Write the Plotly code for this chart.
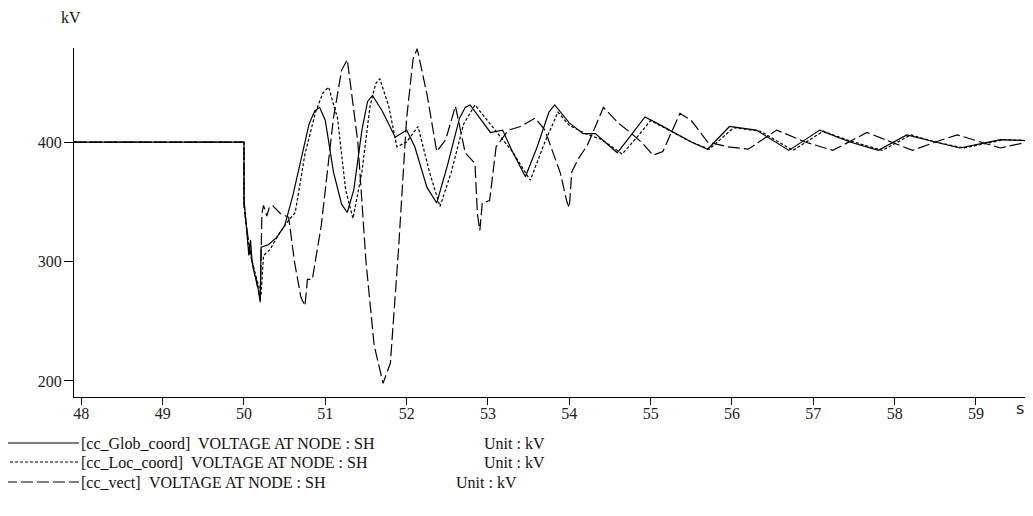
import plotly.graph_objects as go

# ---------------- data ----------------
t_glob = [47.91, 50.0, 50.0, 50.02, 50.04, 50.06, 50.08, 50.1, 50.12, 50.15, 50.18, 50.2, 50.21,
          50.3, 50.4, 50.5, 50.6, 50.7, 50.8, 50.87, 50.93, 51.0, 51.1, 51.2, 51.27, 51.35, 51.45,
          51.52, 51.58, 51.7, 51.86, 52.0, 52.1, 52.25, 52.37, 52.5, 52.65, 52.72, 52.78, 52.9,
          53.03, 53.18, 53.3, 53.46, 53.6, 53.75, 53.82, 54.0, 54.17, 54.32, 54.59, 54.75, 54.93,
          55.1, 55.28, 55.5, 55.7, 55.97, 56.3, 56.7, 57.08, 57.45, 57.8, 58.15, 58.5, 58.8,
          59.3, 59.7]
v_glob = [400, 400, 352, 335, 318, 305, 318, 300, 292, 285, 275, 266, 312,
          314, 320, 330, 355, 385, 415, 426, 429, 418, 375, 348, 341, 360, 410,
          434, 439, 426, 404, 410, 396, 362, 349, 380, 420, 429, 431, 420,
          408, 410, 392, 371, 395, 425, 431, 416, 407, 407, 391, 405, 421,
          415, 408, 400, 394, 413, 410, 393, 410, 400, 393, 406, 400, 395,
          402, 401]

t_loc = [47.91, 50.0, 50.0, 50.03, 50.06, 50.1, 50.14, 50.18, 50.21, 50.24, 50.32, 50.42,
         50.52, 50.63, 50.75, 50.88, 50.97, 51.04, 51.15, 51.25, 51.34, 51.45, 51.55, 51.62,
         51.67, 51.78, 51.88, 52.0, 52.14, 52.28, 52.41, 52.55, 52.7, 52.84, 52.97, 53.1,
         53.3, 53.52, 53.7, 53.86, 54.0, 54.2, 54.4, 54.65, 54.82, 55.0, 55.3, 55.5, 55.72,
         56.02, 56.35, 56.75, 57.12, 57.45, 57.85, 58.2, 58.5, 58.85, 59.35, 59.7]
v_loc = [400, 400, 350, 330, 310, 300, 290, 280, 272, 305, 310, 322,
         332, 341, 390, 425, 441, 446, 420, 360, 336, 375, 430, 449,
         453, 430, 396, 400, 413, 375, 346, 375, 415, 431, 420, 408,
         392, 368, 400, 425, 414, 407, 402, 390, 403, 418, 407, 400, 394,
         412, 409, 393, 409, 401, 393, 406, 400, 395, 402, 401]

t_vect = [47.91, 50.0, 50.0, 50.05, 50.1, 50.15, 50.2, 50.22, 50.24, 50.28, 50.31, 50.35,
          50.45, 50.55, 50.62, 50.7, 50.75, 50.78, 50.84, 50.95, 51.1, 51.2, 51.27, 51.4, 51.5,
          51.6, 51.71, 51.8, 51.9, 52.0, 52.08, 52.13, 52.25, 52.37, 52.48, 52.6, 52.72, 52.84,
          52.87, 52.9, 52.93, 53.02, 53.1, 53.25, 53.4, 53.58, 53.7, 53.89, 53.97, 54.0,
          54.03, 54.12, 54.22, 54.42, 54.6, 54.75, 54.9, 55.03, 55.15, 55.36, 55.5, 55.7,
          55.95, 56.2, 56.55, 56.9, 57.24, 57.66, 57.95, 58.22, 58.5, 58.77, 59.3, 59.7]
v_vect = [400, 400, 345, 320, 300, 285, 268, 340, 347, 338, 345, 347,
          340, 337, 300, 270, 263, 285, 285, 330, 420, 460, 469, 400, 300,
          230, 198, 215, 310, 420, 470, 478, 440, 392, 402, 430, 391, 382,
          340, 326, 349, 351, 396, 410, 413, 420, 410, 374, 350, 345,
          375, 387, 397, 429, 416, 408, 399, 389, 392, 424, 418, 400,
          396, 394, 410, 400, 393, 408, 400, 393, 400, 406, 395, 401]

series_names = ["[cc_Glob_coord]", "[cc_Loc_coord]", "[cc_vect]"]
y_ticks = [200, 300, 400]
x_ticks = list(range(48, 60))

# ---------------- figure ----------------
# the page body has an 8px margin on every side; keep the figure inside the window
OFF = 8
W, H = 1033 - 2 * OFF, 516 - 2 * OFF
L, T = 74 - OFF, 48 - OFF
R, B = 0, H - (397 - OFF)
pw, ph = W - L - R, H - T - B

FONT = "Liberation Serif"
dashes = ["solid", "3px,2px", "12px,4px"]
xs = [t_glob, t_loc, t_vect]
ys = [v_glob, v_loc, v_vect]

fig = go.Figure()
for name, x, y, d in zip(series_names, xs, ys, dashes):
    fig.add_trace(go.Scatter(x=x, y=y, mode="lines", name=name,
                             line=dict(color="black", width=1.2, dash=d),
                             showlegend=False))

# screen pixel -> paper coordinates
def px_x(p):
    return (p - OFF - L) / pw

def px_y(p):
    return (H - B - (p - OFF)) / ph

shapes = []
annotations = []
legend_rows = [443, 462, 482]
volt_x = [197, 190, 148]
unit_x = [483, 483, 455]
FS = 16
for i, (name, d) in enumerate(zip(series_names, dashes)):
    yy = px_y(legend_rows[i])
    shapes.append(dict(type="line", xref="paper", yref="paper",
                       x0=px_x(5), x1=px_x(79), y0=yy, y1=yy,
                       line=dict(color="black", width=1.2, dash=d)))
    for txt, xx in [(name, 80), ("VOLTAGE AT NODE : SH", volt_x[i]), ("Unit : kV", unit_x[i])]:
        annotations.append(dict(text=txt, xref="paper", yref="paper", x=px_x(xx), y=yy,
                                xanchor="left", yanchor="middle", showarrow=False, borderpad=0,
                                font=dict(family=FONT, size=FS, color="#111")))

annotations.append(dict(text="kV", xref="paper", yref="paper", x=px_x(71), y=px_y(18),
                        xanchor="center", yanchor="middle", showarrow=False,
                        font=dict(family=FONT, size=16, color="#111")))
annotations.append(dict(text="s", xref="paper", yref="paper", x=px_x(1020), y=px_y(408),
                        xanchor="center", yanchor="middle", showarrow=False, borderpad=0,
                        font=dict(family="DejaVu Sans", size=16, color="#222")))

fig.update_layout(
    width=W, height=H,
    margin=dict(l=L, r=R, t=T, b=B, pad=0),
    paper_bgcolor="white", plot_bgcolor="white",
    showlegend=False,
    shapes=shapes, annotations=annotations,
    xaxis=dict(range=[47.91, 59.603], tickvals=x_ticks, ticktext=[str(v) for v in x_ticks],
               showline=True, linecolor="black", linewidth=1.3, showgrid=False, zeroline=False,
               ticks="outside", ticklen=7, tickcolor="black", tickwidth=1.3,
               ticklabelstandoff=-5,
               tickfont=dict(family=FONT, size=16, color="#222")),
    yaxis=dict(range=[186.6, 478.7], tickvals=y_ticks, ticktext=[str(v) for v in y_ticks],
               showline=True, linecolor="black", linewidth=1.3, showgrid=False, zeroline=False,
               ticks="outside", ticklen=9, tickcolor="black", tickwidth=1.3,
               ticklabelstandoff=-1,
               tickfont=dict(family=FONT, size=16, color="#222")),
)

fig.write_html("out.html")
